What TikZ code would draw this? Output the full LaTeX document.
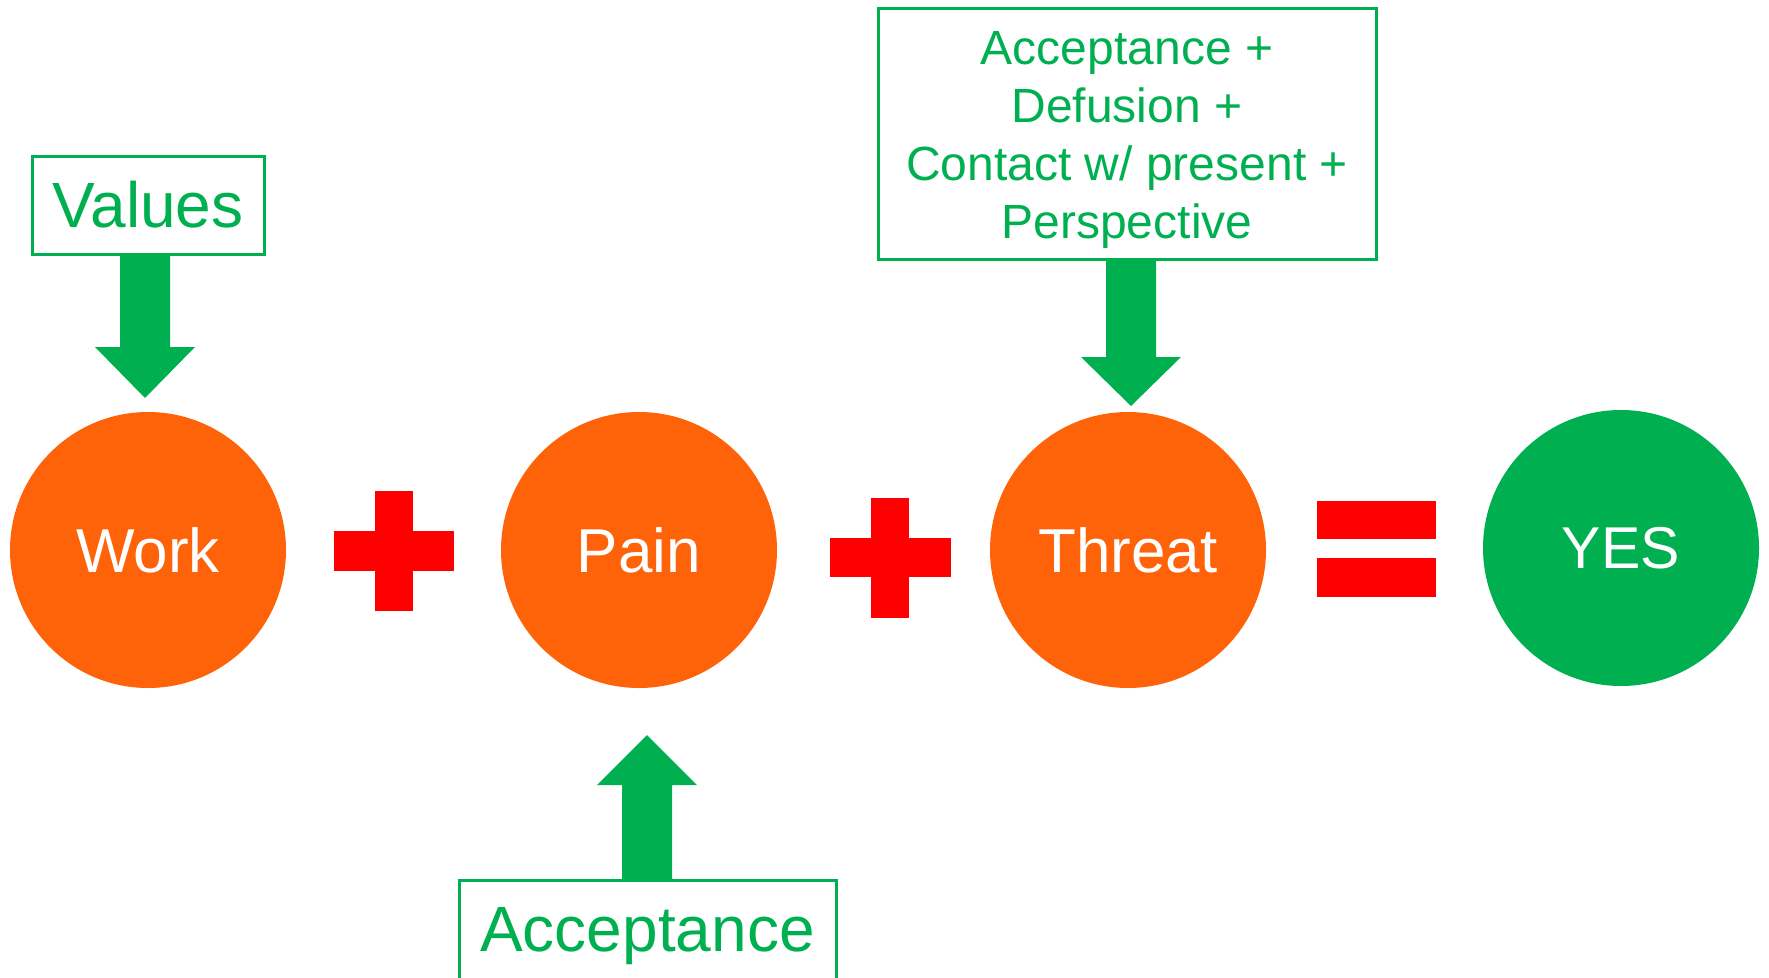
\documentclass[tikz,border=0pt]{standalone}
\usepackage{fontspec}
\setmainfont{Liberation Sans}
\definecolor{discorange}{HTML}{FF6309}
\definecolor{actgreen}{HTML}{00B050}
\definecolor{opred}{HTML}{FF0000}

% block arrow: centre x, tail y, y where the head starts, tip y
\newcommand{\blockarr}[4]{%
  \fill[blockarrow] (#1-25,#2) -- (#1+25,#2) -- (#1+25,#3) -- (#1+50,#3)
    -- (#1,#4) -- (#1-50,#3) -- (#1-25,#3) -- cycle;}

\begin{document}
\begin{tikzpicture}[x=1pt,y=-1pt,
  disc/.style={circle,fill=discorange,minimum size=276pt,inner sep=0pt,
    text=white,font=\fontsize{62}{70}\selectfont},
  labelbox/.style={draw=actgreen,line width=3pt,text=actgreen,inner sep=0pt,
    align=center},
  opsign/.style={fill=opred},
  blockarrow/.style={fill=actgreen}]

\clip (0,0) rectangle (1769,977);
\useasboundingbox (0,0) rectangle (1769,977);

% the four terms
\node[disc] (work) at (148,550) {Work};
\node[disc] (pain) at (639,550) {Pain};
\node[disc] (threat) at (1128,550) {Threat};
\node[disc,fill=actgreen,font=\fontsize{59}{70}\selectfont] (yes) at (1621,548) {YES};

% operators
\fill[opsign] (334,531) rectangle (454,571);
\fill[opsign] (375,491) rectangle (413,611);
\fill[opsign] (830,538) rectangle (951,577);
\fill[opsign] (871,498) rectangle (909,618);
\fill[opsign] (1317,501) rectangle (1436,539);
\fill[opsign] (1317,558) rectangle (1436,597);

% processes acting on each term
\node[labelbox,minimum width=232pt,minimum height=98pt,
  font=\fontsize{64}{70}\selectfont] (values) at (148,205) {Values};
\node[labelbox,minimum width=498pt,minimum height=251pt] (practicesframe)
  at (1127,133.5) {};
\node[text=actgreen,align=center,inner sep=0pt,
  font=\fontsize{48}{58}\selectfont] (practices) at (1127,139.5)
  {Acceptance +\\Defusion +\\Contact w/ present +\\Perspective};
\node[labelbox,minimum width=377pt,minimum height=112pt,
  font=\fontsize{64}{70}\selectfont] (accept) at (647.5,936) {Acceptance};

\blockarr{145}{254}{347}{398}
\blockarr{1131}{261}{357}{406}
\blockarr{647}{879}{785}{735}
\end{tikzpicture}
\end{document}
